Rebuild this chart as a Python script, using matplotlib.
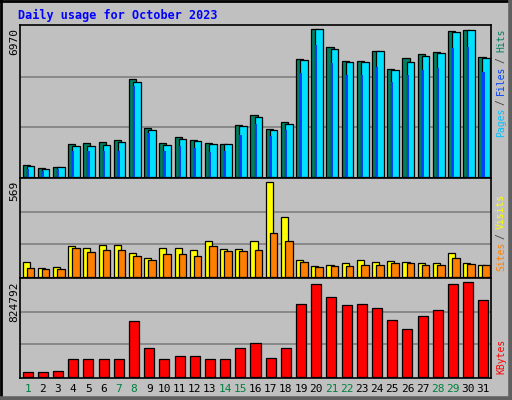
import matplotlib
matplotlib.use("Agg")
import matplotlib.pyplot as plt
import numpy as np

days = list(range(1, 32))
weekend = [1, 7, 8, 14, 15, 21, 22, 28, 29]
hits = [554,415,462,1523,1569,1616,1708,4524,2262,1569,1846,1708,1569,1523,2400,2862,2216,2539,5447,6832,6001,5355,5355,5816,4985,5493,5678,5770,6739,6786,5539]
files = [508,369,462,1431,1431,1477,1616,4385,2170,1477,1754,1662,1523,1523,2354,2770,2170,2446,5401,6832,5909,5308,5308,5816,4939,5308,5585,5724,6693,6786,5493]
pages = [369,277,369,1200,1200,1200,1200,4200,2031,1200,1431,1339,1154,1200,1939,2446,1900,2150,4800,6100,5300,4700,4700,5100,4400,4700,4950,5050,5950,6000,4850]
visits = [90,54,60,180,168,186,186,138,114,168,168,156,210,162,162,210,552,348,102,66,72,84,102,90,96,90,84,84,138,84,72]
sites = [54,48,48,168,144,156,156,120,102,132,132,120,180,150,150,156,258,210,90,60,66,66,72,72,84,84,72,72,114,78,72]
kbytes = [43000,43000,52000,156000,156000,156000,156000,469000,243000,156000,182000,174000,156000,156000,243000,287000,165000,243000,616000,781000,677000,608000,616000,582000,478000,408000,512000,564000,781000,799000,651000]
max_hits, max_visits, max_kb = 6970, 569, 824792

BG = "#C0C0C0"
MONO = "DejaVu Sans Mono"
fig = plt.figure(figsize=(5.12, 4.0), dpi=100, facecolor=BG)
W, H = 512, 400

def axes_px(x0, y0, x1, y1):
    return fig.add_axes([x0 / W, 1 - y1 / H, (x1 - x0) / W, (y1 - y0) / H])

x = np.array(days)
panels = []
for (y0, y1, mx) in [(25, 178, max_hits), (178, 278, max_visits), (278, 378, max_kb)]:
    ax = axes_px(20, y0, 491, y1)
    ax.set_facecolor(BG)
    ax.set_xlim(0.5, 31.5)
    ax.set_ylim(-mx * 0.008, mx * 1.01)
    for g in (mx / 3, 2 * mx / 3):
        ax.axhline(g, color="#808080", lw=1.2, zorder=0)
    ax.set_xticks([]); ax.set_yticks([])
    for s in ax.spines.values():
        s.set_color("black"); s.set_linewidth(1.2)
    panels.append(ax)

ax1, ax2, ax3 = panels
kw = dict(align="edge", edgecolor="black", linewidth=0.9)
ax1.bar(x - 0.33, hits, width=0.47, color="#008060", **kw)
ax1.bar(x - 0.06, files, width=0.5, color="#00E0FF", **kw)
ax1.bar(x - 0.06, pages, width=0.14, color="#0040FF", edgecolor="none", align="edge")
ax2.bar(x - 0.33, visits, width=0.47, color="#FFFF00", **kw)
ax2.bar(x - 0.06, sites, width=0.5, color="#FF8000", **kw)
ax3.bar(x, kbytes, width=0.66, color="#FF0000", edgecolor="black", linewidth=0.9)

fig.text(18 / W, 1 - 15 / H, "Daily usage for October 2023", color="#0000FF",
         fontsize=8.5, fontweight="bold", family=MONO, va="center", ha="left")

for lab, ytop in [(str(max_hits), 28), (str(max_visits), 181), (str(max_kb), 281)]:
    fig.text(14 / W, 1 - ytop / H, lab, rotation=90, fontsize=8, family=MONO,
             va="top", ha="center", color="black")

for d in days:
    xp = 20 + (d - 0.5) * 471 / 31
    fig.text(xp / W, 1 - 389 / H, str(d), fontsize=8, family=MONO, ha="center",
             va="center", color="#008040" if d in weekend else "black")

def right_label(pieces, ybottom, step=5.3):
    y = ybottom
    for txt, col in pieces:
        if txt != " ":
            fig.text(501 / W, 1 - y / H, txt, rotation=90, fontsize=7, family=MONO,
                     color=col, ha="center", va="bottom")
        y -= len(txt) * step

right_label([("Pages", "#00C0FF"), (" ", ""), ("/", "#404040"), (" ", ""), ("Files", "#0040FF"),
             (" ", ""), ("/", "#404040"), (" ", ""), ("Hits", "#008060")], 137)
right_label([("Sites", "#FF8000"), (" ", ""), ("/", "#404040"), (" ", ""), ("Visits", "#FFFF00")], 271)
right_label([("KBytes", "#FF0000")], 374)

fig.add_artist(plt.Line2D([0, 1], [1 - 1 / H, 1 - 1 / H], color="black", lw=2, transform=fig.transFigure))
fig.add_artist(plt.Line2D([1 / W, 1 / W], [0, 1], color="black", lw=2, transform=fig.transFigure))
fig.add_artist(plt.Line2D([0, 1], [1 / H, 1 / H], color="#606060", lw=4, transform=fig.transFigure))
fig.add_artist(plt.Line2D([1 - 1 / W, 1 - 1 / W], [0, 1], color="#606060", lw=4, transform=fig.transFigure))

fig.savefig("out.png", dpi=100, facecolor=BG)
